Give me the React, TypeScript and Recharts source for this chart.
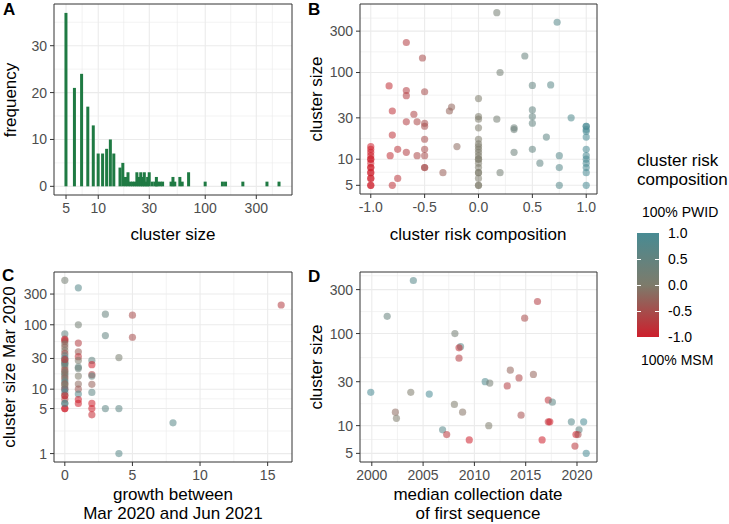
import React from 'react'
import { BarChart, Bar, ScatterChart, Scatter, XAxis, YAxis, CartesianGrid, ReferenceArea } from 'recharts'

const FONT = '"Liberation Sans", Arial, Helvetica, sans-serif'

// A: histogram of cluster sizes (log bins)
const sizeBins = [5, 6, 7, 8, 9, 10, 11, 12, 13, 14, 16, 17, 18, 19, 20, 21, 22, 23, 24, 25, 26, 27, 28, 29, 30, 32, 34, 35, 36, 38, 40, 48, 50, 52, 58, 61, 70, 100, 145, 155, 225, 378, 490]
const sizeCounts = [37, 21, 24, 17, 13, 7, 7, 8, 10, 7, 4, 5, 2, 3, 1, 1, 1, 3, 2, 3, 2, 3, 1, 2, 3, 1, 1, 2, 1, 1, 1, 1, 2, 1, 2, 1, 3, 1, 1, 1, 1, 1, 1]

// B: cluster risk composition vs cluster size
const riskComp = [
  -1, -1, -1, -1, -1, -1, -1, -1, -1, -1, -1, -1, -1, -1, -1,
  -0.83, -0.8, -0.8, -0.82, -0.8, -0.75, -0.75, -0.67, -0.67, -0.67, -0.67, -0.67, -0.6, -0.57, -0.57,
  -0.52, -0.5, -0.5, -0.5, -0.5, -0.5, -0.5, -0.5, -0.5, -0.33, -0.27, -0.25, -0.2,
  0, 0, 0, 0, 0, 0, 0, 0, 0, 0, 0, 0, 0, 0, 0, 0, 0, 0, 0,
  0.17, 0.2, 0.17, 0.2, 0.33, 0.33, 0.33, 0.43, 0.5, 0.5, 0.5, 0.5, 0.5, 0.57, 0.63, 0.67, 0.73, 0.75, 0.75, 0.75, 0.86,
  1, 1, 1, 1, 1, 1, 1, 1, 1, 1, 1, 1,
]
const riskSize = [
  5, 5, 6, 6, 7, 7, 8, 8, 9, 10, 10, 11, 12, 13, 14,
  70, 36, 19, 11, 5, 13, 6, 222, 62, 54, 27, 12, 33, 27, 11,
  147, 60, 26, 24, 17, 13, 11, 8, 8, 7, 36, 40, 14,
  5, 5, 6, 7, 7, 8, 9, 10, 10, 11, 12, 13, 14, 15, 17, 23, 29, 31, 50,
  490, 100, 29, 7, 23, 22, 12, 155, 71, 37, 31, 26, 13, 9, 18, 72, 380, 11, 8, 5, 30,
  5, 7, 8, 9, 10, 11, 13, 18, 21, 22, 24, 24,
]

// C: growth Mar 2020 -> Jun 2021 vs cluster size in Mar 2020
const growth = [
  0, 0, 0, 0, 0, 0, 0, 0, 0, 0, 0, 0, 0, 0, 0, 0, 0, 0, 0, 0, 0, 0, 0, 0, 0, 0, 0, 0, 0, 0, 0, 0, 0, 0, 0, 0, 0, 0,
  1, 1, 1, 1, 1, 1, 1, 1, 1, 1, 1, 1, 1, 1,
  2, 2, 2, 2, 2, 2, 2, 2, 2,
  3, 3, 3, 4, 4, 4, 5, 5, 8, 16,
]
const marSize = [
  490, 72, 60, 58, 55, 50, 45, 40, 36, 33, 30, 28, 26, 24, 22, 20, 18, 17, 15, 14, 13, 12, 11, 10, 9, 8, 7, 6, 5, 5, 6, 8, 10, 12, 16, 19, 25, 29,
  375, 100, 52, 38, 32, 28, 22, 21, 16, 12, 10, 8.4, 6.9, 6,
  28, 24, 16.8, 16, 11.9, 8.9, 6, 5, 4,
  146, 68, 5, 31, 5, 1, 141, 64, 3, 203,
]
const marComp = [
  0.17, 0.5, -0.67, -1, -0.5, 0, -0.25, 0, -0.5, 0.5, 1, 0, -0.33, 0.33, 0, -0.5, 0.5, 0, -0.75, 0, 1, -0.5, 0, -1, 0.75, 0, -0.6, 0, -1, -1, 1, -1, 1, 0, 0.2, -0.2, 0.6, -0.8,
  0.73, 0.2, -0.67, -0.33, -0.8, 0, 0.5, 0.33, 0, -0.2, -0.4, 0.8, -1, -1,
  0.5, -1, -0.6, 0.5, -0.3, 0.6, -1, -1, -0.9,
  0.43, 0.5, 0.6, 0.1, 0.6, 0.7, -0.52, -0.5, 0.7, -0.67,
]

// D: median collection date of first sequence vs cluster size
const firstDate = [
  1999.9, 2001.5, 2004.05, 2002.3, 2002.4, 2003.8, 2005.6, 2006.9, 2007.3, 2008.1, 2008.05, 2008.65, 2008.5, 2008.5, 2008.85, 2009.5,
  2011.05, 2011.5, 2011.4, 2013.2, 2013.5, 2014.35, 2014.55, 2014.9, 2016.15, 2015.75, 2016.6, 2017.2, 2017.6, 2017.2, 2017.35,
  2019.45, 2020.2, 2020.65, 2019.9, 2020.1, 2019.8, 2020.9,
]
const firstSize = [
  23, 154, 377, 14, 12, 23, 22, 9, 8, 100, 17, 72, 70, 54, 14, 7,
  30, 29, 10, 27, 40, 33, 13, 147, 223, 36, 7, 19, 18, 11, 11,
  11, 9, 11, 8, 8, 6, 5,
]
const firstComp = [
  1, 0.43, 0.73, -0.2, 0, 0, 1, 0.75, -0.75, 0.2, 0, 0.67, -0.83, -0.67, -0.1, -1,
  0.86, 0.17, 0, -0.67, -0.25, -0.6, -0.5, -0.52, -0.67, -0.27, -1, -0.8, 0.63, -0.82, -1,
  0.75, 0.57, 1, -1, -0.5, -0.75, 1,
]

const logTicks = [5, 10, 30, 100, 300]
const logMinor = [7.07, 17.3, 54.8, 173, 424]
const legendTicks = [1, 0.5, 0, -0.5, -1]

const LOW = [205, 31, 44]
const MID = [125, 123, 107]
const HIGH = [72, 139, 147]
const riskColor = (v: number) => {
  const end = v < 0 ? LOW : HIGH
  const t = Math.abs(v)
  const c = MID.map((m, i) => Math.round(m + (end[i] - m) * t))
  return `rgb(${c.join(',')})`
}

const histData = sizeBins.map((s, i) => ({ size: s, count: sizeCounts[i] }))
const bData = riskComp.map((c, i) => ({ x: c, y: riskSize[i], c }))
const cData = growth.map((g, i) => ({ x: g, y: marSize[i], c: marComp[i] }))
const dData = firstDate.map((d, i) => ({ x: d, y: firstSize[i], c: firstComp[i] }))

const tick = { fill: '#4D4D4D', fontSize: 14, fontFamily: FONT }
const tickLine = { stroke: '#333333' }

const dot = (p: any) => (
  <circle cx={p.cx} cy={p.cy} r={3.6} fill={riskColor(p.payload.c)} fillOpacity={0.55} />
)

// keep each histogram bar 3px wide around the centre recharts gives it
const histBar = (p: any) => (
  <rect x={p.x + p.width / 2 - 1.5} y={p.y} width={3} height={Math.max(p.height, 0)} fill="#1F7A43" />
)

const grids = (xMinor: number[], xMajor: number[], yMinor: number[], yMajor: number[]) => [
  <CartesianGrid key="minor" verticalValues={xMinor} horizontalValues={yMinor} stroke="#EBEBEB" strokeWidth={0.6} />,
  <CartesianGrid key="major" verticalValues={xMajor} horizontalValues={yMajor} stroke="#EBEBEB" strokeWidth={1.1} />,
]

const border = (xd: number[], yd: number[]) => (
  <ReferenceArea x1={xd[0]} x2={xd[1]} y1={yd[0]} y2={yd[1]} fill="none" stroke="#333333" strokeWidth={1} ifOverflow="visible" />
)

const Text = ({ x, y, children, rotate = false, size = 17, bold = false, align = 'center', lh = 17 }: any) => (
  <div
    style={{
      position: 'absolute',
      left: x,
      top: y,
      transform: align === 'center' ? `translate(-50%, -50%)${rotate ? ' rotate(-90deg)' : ''}` : 'translate(0, -50%)',
      fontFamily: FONT,
      fontSize: size,
      fontWeight: bold ? 700 : 400,
      lineHeight: `${lh}px`,
      whiteSpace: 'nowrap',
      textAlign: 'center',
      color: '#000',
    }}
  >
    {children}
  </div>
)

const aX = [3.86, 647]
const aY = [-1.85, 38.9]
const bX = [-1.1, 1.1]
const bY = [3.97, 617]
const cX = [-0.8, 16.8]
const cY = [0.74, 660]
const dX = [1998.85, 2021.95]
const dY = [4.03, 466]

export default function App() {
  return (
    <div style={{ position: 'absolute', left: 0, top: 0, width: 729, height: 524, background: '#fff', overflow: 'hidden' }}>
      <div style={{ position: 'absolute', left: 0, top: 0 }}>
        <BarChart width={300} height={250} data={histData} margin={{ top: 4, right: 8, bottom: 0, left: 0 }}>
          {grids(logMinor, logTicks, [5, 15, 25, 35], [0, 10, 20, 30])}
          <XAxis dataKey="size" type="number" scale="log" domain={aX} allowDataOverflow ticks={logTicks} interval={0}
            height={55} axisLine={false} tickLine={tickLine} tickSize={4} tickMargin={4} tick={tick} />
          <YAxis type="number" domain={aY} allowDataOverflow ticks={[0, 10, 20, 30]} interval={0}
            width={54} axisLine={false} tickLine={tickLine} tickSize={4} tickMargin={3} tick={tick} />
          <Bar dataKey="count" fill="#1F7A43" barSize={3} shape={histBar} isAnimationActive={false} />
          {border(aX, aY)}
        </BarChart>
      </div>

      <div style={{ position: 'absolute', left: 300, top: 0 }}>
        <ScatterChart width={305} height={250} margin={{ top: 4, right: 8, bottom: 0, left: 0 }}>
          {grids([-0.75, -0.25, 0.25, 0.75], [-1, -0.5, 0, 0.5, 1], logMinor, logTicks)}
          <XAxis dataKey="x" type="number" domain={bX} allowDataOverflow ticks={[-1, -0.5, 0, 0.5, 1]} interval={0}
            tickFormatter={(v: number) => v.toFixed(1)}
            height={56} axisLine={false} tickLine={tickLine} tickSize={4} tickMargin={4} tick={tick} />
          <YAxis dataKey="y" type="number" scale="log" domain={bY} allowDataOverflow ticks={logTicks} interval={0}
            width={60} axisLine={false} tickLine={tickLine} tickSize={4} tickMargin={3} tick={tick} />
          <Scatter data={bData} shape={dot} isAnimationActive={false} />
          {border(bX, bY)}
        </ScatterChart>
      </div>

      <div style={{ position: 'absolute', left: 0, top: 262 }}>
        <ScatterChart width={300} height={262} margin={{ top: 10, right: 8, bottom: 0, left: 0 }}>
          {grids([2.5, 7.5, 12.5], [0, 5, 10, 15], [2.24, 7.07, 17.3, 54.8, 173], [1, 5, 10, 30, 100, 300])}
          <XAxis dataKey="x" type="number" domain={cX} allowDataOverflow ticks={[0, 5, 10, 15]} interval={0}
            height={62} axisLine={false} tickLine={tickLine} tickSize={4} tickMargin={4} tick={tick} />
          <YAxis dataKey="y" type="number" scale="log" domain={cY} allowDataOverflow ticks={[1, 5, 10, 30, 100, 300]} interval={0}
            width={54} axisLine={false} tickLine={tickLine} tickSize={4} tickMargin={3} tick={tick} />
          <Scatter data={cData} shape={dot} isAnimationActive={false} />
          {border(cX, cY)}
        </ScatterChart>
      </div>

      <div style={{ position: 'absolute', left: 300, top: 262 }}>
        <ScatterChart width={305} height={262} margin={{ top: 10, right: 8, bottom: 0, left: 0 }}>
          {grids([2002.5, 2007.5, 2012.5, 2017.5], [2000, 2005, 2010, 2015, 2020], logMinor, logTicks)}
          <XAxis dataKey="x" type="number" domain={dX} allowDataOverflow ticks={[2000, 2005, 2010, 2015, 2020]} interval={0}
            height={62} axisLine={false} tickLine={tickLine} tickSize={4} tickMargin={4} tick={tick} />
          <YAxis dataKey="y" type="number" scale="log" domain={dY} allowDataOverflow ticks={logTicks} interval={0}
            width={60} axisLine={false} tickLine={tickLine} tickSize={4} tickMargin={3} tick={tick} />
          <Scatter data={dData} shape={dot} isAnimationActive={false} />
          {border(dX, dY)}
        </ScatterChart>
      </div>

      {/* panel letters */}
      <Text x={3} y={9} bold align="left">A</Text>
      <Text x={308} y={9} bold align="left">B</Text>
      <Text x={2} y={275} bold align="left">C</Text>
      <Text x={308} y={276} bold align="left">D</Text>

      {/* axis titles */}
      <Text x={173} y={234}>cluster size</Text>
      <Text x={10} y={100} rotate>frequency</Text>
      <Text x={478} y={234}>cluster risk composition</Text>
      <Text x={316} y={99} rotate>cluster size</Text>
      <Text x={173} y={504} lh={19}>growth between<br />Mar 2020 and Jun 2021</Text>
      <Text x={9} y={367} rotate>cluster size Mar 2020</Text>
      <Text x={478} y={504} lh={19}>median collection date<br />of first sequence</Text>
      <Text x={316} y={367} rotate>cluster size</Text>

      {/* colour legend */}
      <div style={{ position: 'absolute', left: 637, top: 151, fontFamily: FONT, fontSize: 17, lineHeight: '19px', color: '#000' }}>
        cluster risk<br />composition
      </div>
      <Text x={642} y={212} size={14} align="left">100% PWID</Text>
      <div
        style={{
          position: 'absolute', left: 637, top: 233, width: 22, height: 104,
          background: `linear-gradient(to bottom, ${riskColor(1)}, ${riskColor(0)}, ${riskColor(-1)})`,
        }}
      />
      {legendTicks.map((v, i) => (
        <React.Fragment key={v}>
          {i > 0 && i < legendTicks.length - 1 && (
            <>
              <div style={{ position: 'absolute', left: 637, top: 233 + i * 26, width: 4, height: 1, background: '#fff' }} />
              <div style={{ position: 'absolute', left: 655, top: 233 + i * 26, width: 4, height: 1, background: '#fff' }} />
            </>
          )}
          <Text x={668} y={233 + i * 26} size={14} align="left">{v.toFixed(1)}</Text>
        </React.Fragment>
      ))}
      <Text x={641} y={360} size={14} align="left">100% MSM</Text>
    </div>
  )
}
